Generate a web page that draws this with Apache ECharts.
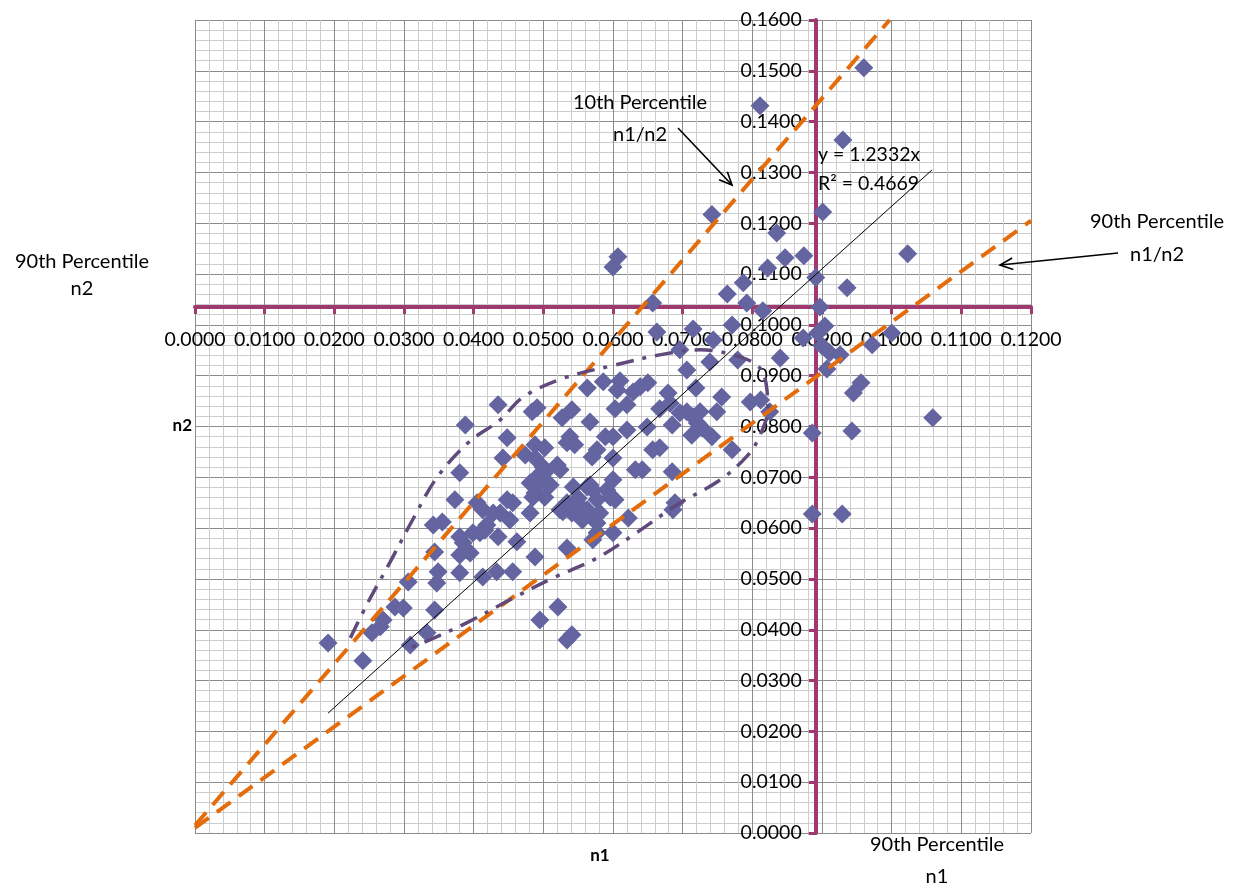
<!DOCTYPE html>
<html><head><meta charset="utf-8">
<script src="https://cdn.jsdelivr.net/npm/echarts@6/dist/echarts.min.js"></script>
<style>html,body{margin:0;padding:0;background:#fff}#c{width:1234px;height:886px}</style>
</head><body><div id="c"></div>
<script>
// ---- data ----
const X_MIN = 0, X_MAX = 0.12, X_STEP = 0.01;
const Y_MIN = 0, Y_MAX = 0.16, Y_STEP = 0.01;
const n1P90 = 0.0891;   // 90th percentile of n1 (vertical axis crossing)
const n2P90 = 0.1035;   // 90th percentile of n2 (horizontal axis crossing)

const n1 = [
0.0960,0.0811,0.0930,0.0742,0.0901,0.0835,0.1023,0.0600,0.0607,0.0874,
0.0847,0.0822,0.0891,0.0787,0.0764,0.0936,0.0657,0.0792,0.0897,0.0815,
0.0771,0.0715,0.0663,0.0904,0.0894,0.1000,0.0972,0.0900,0.0911,0.0926,
0.0840,0.0873,0.0907,0.0956,0.0945,0.0797,0.0812,0.0825,0.1059,0.0886,
0.0943,0.0886,0.0929,0.0779,0.0744,0.0739,0.0696,0.0706,0.0719,0.0756,
0.0679,0.0650,0.0629,0.0639,0.0610,0.0606,0.0586,0.0563,0.0620,0.0603,
0.0667,0.0682,0.0685,0.0696,0.0706,0.0715,0.0725,0.0721,0.0713,0.0728,
0.0742,0.0749,0.0649,0.0620,0.0589,0.0600,0.0657,0.0667,0.0771,
0.0642,0.0685,0.0600,0.0600,0.0591,0.0596,0.0603,0.0689,0.0686,0.0622,0.0600,
0.0567,0.0541,0.0527,0.0491,0.0484,0.0435,0.0388,0.0448,0.0442,0.0488,
0.0502,0.0474,0.0488,0.0538,0.0545,0.0534,0.0570,0.0577,0.0632,0.0502,
0.0495,0.0510,0.0488,0.0502,0.0524,0.0543,0.0534,0.0550,0.0563,0.0571,
0.0577,0.0563,0.0571,0.0581,
0.0571,0.0541,0.0524,0.0481,0.0452,0.0438,0.0448,0.0456,0.0405,0.0413,
0.0409,0.0416,0.0435,0.0395,0.0385,0.0462,0.0380,0.0413,0.0433,0.0456,
0.0488,0.0534,0.0521,0.0495,0.0541,0.0534,
0.0380,0.0373,0.0428,0.0342,0.0355,0.0380,0.0399,0.0344,0.0380,0.0390,
0.0349,0.0347,0.0306,0.0287,0.0299,0.0344,0.0270,0.0266,0.0254,0.0191,0.0241,0.0309,0.0333,
0.0500,0.0520,0.0491,0.0481,0.0485,0.0567,0.0548,0.0556,0.0577,0.0528,0.0419,0.0577
];
const n2 = [
0.1506,0.1431,0.1364,0.1217,0.1222,0.1181,0.1140,0.1114,0.1134,0.1136,
0.1132,0.1112,0.1093,0.1083,0.1061,0.1073,0.1043,0.1043,0.1035,0.1028,
0.1000,0.0992,0.0986,0.0998,0.0984,0.0984,0.0961,0.0959,0.0945,0.0941,
0.0935,0.0974,0.0913,0.0886,0.0866,0.0848,0.0852,0.0829,0.0817,0.0787,
0.0791,0.0628,0.0628,0.0931,0.0970,0.0927,0.0951,0.0911,0.0876,0.0858,
0.0866,0.0886,0.0868,0.0878,0.0890,0.0872,0.0888,0.0876,0.0843,0.0835,
0.0835,0.0846,0.0803,0.0827,0.0829,0.0819,0.0829,0.0807,0.0783,0.0797,
0.0780,0.0829,0.0799,0.0793,0.0780,0.0780,0.0754,0.0758,0.0754,
0.0715,0.0711,0.0738,0.0695,0.0675,0.0661,0.0656,0.0650,0.0636,0.0620,0.0591,
0.0809,0.0833,0.0817,0.0837,0.0829,0.0843,0.0803,0.0778,0.0738,0.0764,
0.0758,0.0744,0.0738,0.0780,0.0764,0.0768,0.0740,0.0754,0.0715,0.0709,
0.0689,0.0685,0.0669,0.0661,0.0715,0.0681,0.0650,0.0659,0.0681,0.0675,
0.0656,0.0636,0.0622,0.0630,
0.0577,0.0630,0.0636,0.0630,0.0616,0.0630,0.0656,0.0650,0.0650,0.0636,
0.0591,0.0596,0.0583,0.0551,0.0571,0.0573,0.0512,0.0504,0.0514,0.0514,
0.0543,0.0561,0.0445,0.0419,0.0390,0.0380,
0.0709,0.0656,0.0630,0.0606,0.0612,0.0583,0.0591,0.0553,0.0547,0.0557,
0.0514,0.0492,0.0494,0.0445,0.0443,0.0439,0.0419,0.0406,0.0394,0.0374,0.0339,0.0370,0.0394,
0.0720,0.0724,0.0701,0.0689,0.0661,0.0685,0.0650,0.0616,0.0610,0.0632,0.0606,0.0591
];

// 10th / 90th percentile n1/n2 ratio lines (end points)
const p10LineN1 = [0.0000, 0.0997];
const p10LineN2 = [0.0015, 0.1600];
const p90LineN1 = [0.0000, 0.1200];
const p90LineN2 = [0.0010, 0.1205];
// linear trend y = 1.2332x (end points)
const trendN1 = [0.0191, 0.1058];
const trendN2 = [0.0236, 0.1305];
// dash-dot envelope
const envN1 = [0.0223,0.0248,0.0280,0.0313,0.0347,0.0392,0.0438,0.0471,0.0531,0.0603,0.0667,0.0725,0.0782,0.0811,0.0821,0.0822,0.0811,0.0794,0.0754,0.0692,0.0634,0.0577,0.0514,0.0452,0.0392,0.0337,0.0301];
const envN2 = [0.0384,0.0453,0.0533,0.0618,0.0699,0.0768,0.0813,0.0858,0.0896,0.0921,0.0941,0.0951,0.0937,0.0915,0.0872,0.0833,0.0783,0.0744,0.0695,0.0646,0.0591,0.0541,0.0502,0.0459,0.0415,0.0380,0.0360];

const eqText = 'y = 1.2332x';
const r2Text = 'R\u00B2 = 0.4669';

// ---- chart ----
const G = {left:195, top:20, width:836, height:813};
const axisColor = '#9E3A6F';
const pair = (a,b) => a.map((v,i)=>[v,b[i]]);

function arrow(x1,y1,x2,y2){
  const ang = Math.atan2(y2-y1, x2-x1), L = 14, a = 0.42;
  const p1 = [x2 - L*Math.cos(ang-a), y2 - L*Math.sin(ang-a)];
  const p2 = [x2 - L*Math.cos(ang+a), y2 - L*Math.sin(ang+a)];
  return [
    {type:'polyline', z:100, shape:{points:[[x1,y1],[x2,y2]]}, style:{stroke:'#000', lineWidth:1.6, fill:null}},
    {type:'polyline', z:100, shape:{points:[p1,[x2,y2],p2]}, style:{stroke:'#000', lineWidth:1.6, fill:null}}
  ];
}
function txt(x,y,text,opts){
  opts = opts || {};
  return {type:'text', z:100, x:x, y:y, style:{text:text, font:(opts.bold?'bold ':'')+(opts.size||20)+'px Lato', fill:'#000', align:opts.align||'center', verticalAlign:'middle'}};
}

const chart = echarts.init(document.getElementById('c'));
const baseAxis = {
  type:'value',
  axisLine:{show:true, onZero:false, lineStyle:{color:axisColor, width:4}},
  axisTick:{show:true, length:7, lineStyle:{color:axisColor, width:3}},
  splitLine:{show:true, lineStyle:{color:'#8c8c8c', width:1}},
  minorTick:{show:false, splitNumber:5},
  minorSplitLine:{show:true, lineStyle:{color:'#cdcdcd', width:1}}
};
chart.setOption({
  animation:false,
  backgroundColor:'#ffffff',
  grid:{left:G.left, top:G.top, width:G.width, height:G.height, containLabel:false, outerBoundsMode:'none'},
  xAxis:Object.assign({}, baseAxis, {
    min:X_MIN, max:X_MAX, interval:X_STEP, position:'bottom',
    offset: -((n2P90 - Y_MIN)/(Y_MAX - Y_MIN))*G.height,
    axisLabel:{formatter:v=>v.toFixed(4), color:'#000', fontFamily:'Lato', fontSize:19.5, margin:23, showMinLabel:true, showMaxLabel:true}
  }),
  yAxis:Object.assign({}, baseAxis, {
    min:Y_MIN, max:Y_MAX, interval:Y_STEP, position:'left',
    offset: -((n1P90 - X_MIN)/(X_MAX - X_MIN))*G.width,
    axisLabel:{formatter:v=>v.toFixed(4), color:'#000', fontFamily:'Lato', fontSize:19.5, margin:14, showMinLabel:true, showMaxLabel:true}
  }),
  series:[
    {type:'scatter', data:pair(n1,n2), symbol:'diamond', symbolSize:19, itemStyle:{color:'#6364A0', opacity:1}, z:3},
    {type:'line', data:pair(p10LineN1,p10LineN2), showSymbol:false, symbol:'none', lineStyle:{color:'#E46C0A', width:4, type:[17,10], cap:'butt'}, z:5},
    {type:'line', data:pair(p90LineN1,p90LineN2), showSymbol:false, symbol:'none', lineStyle:{color:'#E46C0A', width:4, type:[17,10], cap:'butt'}, z:5},
    {type:'line', data:pair(trendN1,trendN2), showSymbol:false, symbol:'none', lineStyle:{color:'#000', width:1}, z:6},
    {type:'line', data:pair(envN1,envN2), showSymbol:false, symbol:'none', smooth:0.35, lineStyle:{color:'#604A7B', width:3.5, type:[18,9,4,9], cap:'butt'}, z:5}
  ],
  graphic:[
    txt(82,262,'90th Percentile'), txt(82,289,'n2'),
    txt(640,103,'10th Percentile'), txt(640,135,'n1/n2'),
    txt(1157,222,'90th Percentile'), txt(1157,255,'n1/n2'),
    txt(937,845,'90th Percentile'), txt(937,877,'n1'),
    txt(600,856,'n1',{bold:true,size:17}), txt(192,426,'n2',{bold:true,size:17,align:'right'}),
    txt(818,155,eqText,{align:'left',size:19.5}), txt(818,184,r2Text,{align:'left',size:19.5})
  ].concat(arrow(678,128,732,185)).concat(arrow(1118,253,1000,265))
});
</script></body></html>
